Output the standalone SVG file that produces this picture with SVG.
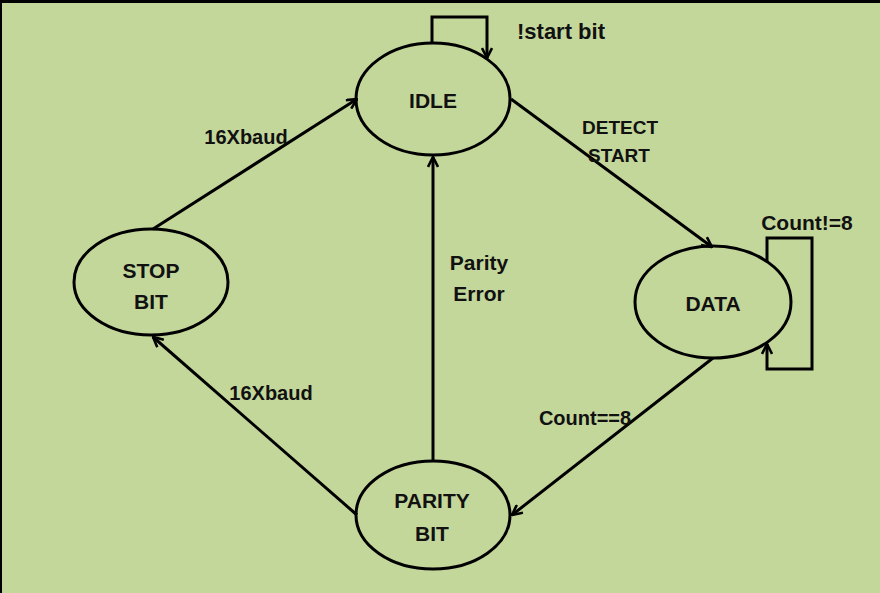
<svg xmlns="http://www.w3.org/2000/svg" width="880" height="593" viewBox="0 0 880 593">
<style>
.node ellipse{fill:none;stroke:#000;stroke-width:3}
.lbl{font-family:"Liberation Sans",Arial,sans-serif;font-weight:bold;font-size:21px;fill:#111;text-anchor:middle}
.edge{fill:none;stroke:#000;stroke-width:3;marker-end:url(#arr)}
</style>
<defs>
<marker id="arr" viewBox="0 0 12 12" refX="11" refY="6" markerWidth="12" markerHeight="12" markerUnits="userSpaceOnUse" orient="auto">
<path d="M1,1 L11,6 L1,11" fill="none" stroke="#000" stroke-width="2.6"/>
</marker>
</defs>
<rect x="0" y="0" width="880" height="593" fill="#c4d79b"/>
<rect x="0" y="0" width="880" height="3" fill="#000"/>
<rect x="0" y="0" width="2" height="593" fill="#000"/>
<g id="connectors">
<path class="edge" d="M432,44 L432,17 L487,17 L487,58"/>
<path class="edge" d="M767,262 L767,238 L812,238 L812,369 L767,369 L767,344"/>
<path class="edge" d="M153,229 L357,99"/>
<path class="edge" d="M511,99 L712,247"/>
<path class="edge" d="M713,358 L512,515"/>
<path class="edge" d="M357,515 L153,337"/>
<path class="edge" d="M433,461 L433,157"/>
</g>
<g id="idle" class="node"><ellipse cx="433" cy="99" rx="77" ry="56"/><text class="lbl" x="433" y="108">IDLE</text></g>
<g id="data" class="node"><ellipse cx="713" cy="302" rx="78" ry="56"/><text class="lbl" x="713" y="311">DATA</text></g>
<g id="stop" class="node"><ellipse cx="151" cy="282" rx="77" ry="53"/><text class="lbl" x="151" y="278">STOP</text><text class="lbl" x="151" y="309">BIT</text></g>
<g id="parity" class="node"><ellipse cx="433" cy="515" rx="77" ry="54"/><text class="lbl" x="432" y="508">PARITY</text><text class="lbl" x="432" y="541">BIT</text></g>
<g id="labels">
<text class="lbl" x="561" y="39" style="font-size:22px">!start bit</text>
<text class="lbl" x="246" y="144" style="font-size:20px">16Xbaud</text>
<text class="lbl" x="620" y="134" style="font-size:19px">DETECT</text>
<text class="lbl" x="619" y="162" style="font-size:19px">START</text>
<text class="lbl" x="807" y="230">Count!=8</text>
<text class="lbl" x="479" y="270">Parity</text>
<text class="lbl" x="479" y="301">Error</text>
<text class="lbl" x="271" y="400" style="font-size:20px">16Xbaud</text>
<text class="lbl" x="585" y="425" style="font-size:20px">Count==8</text>
</g>
</svg>
